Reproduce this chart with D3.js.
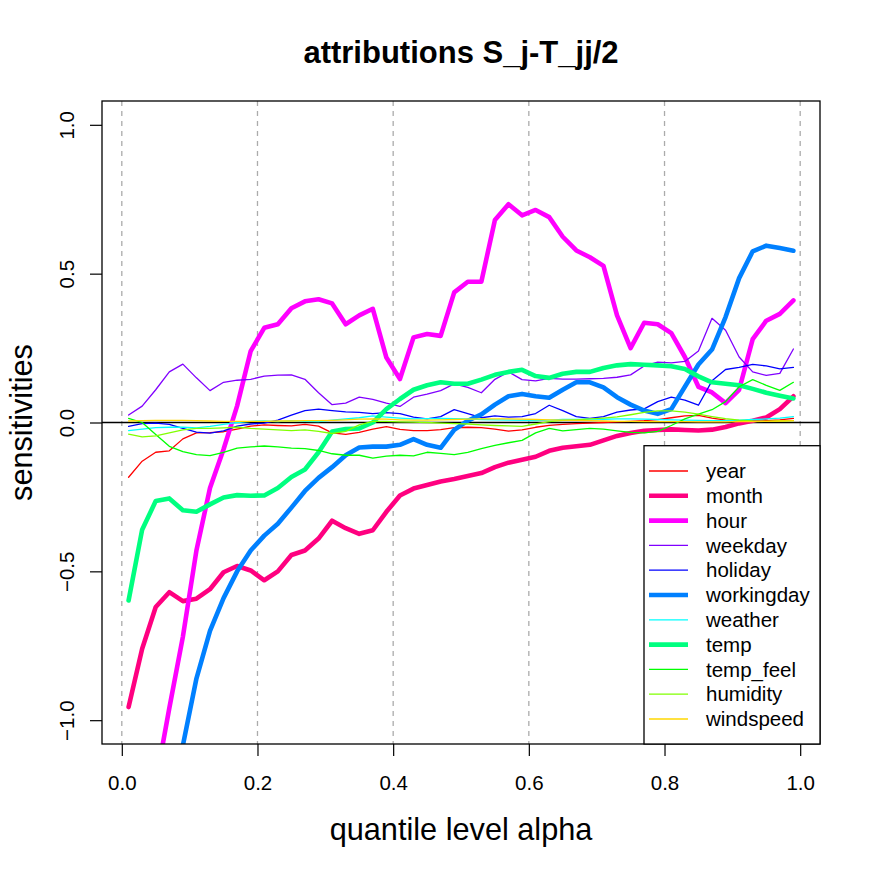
<!DOCTYPE html>
<html>
<head>
<meta charset="utf-8">
<script src="https://cdn.jsdelivr.net/npm/d3@7"></script>
<style>
  html, body { margin: 0; padding: 0; background: #fff; }
  svg { display: block; font-family: "Liberation Sans", Arial, Helvetica, sans-serif; }
</style>
</head>
<body>
<div id="chart"></div>
<script>
// quantile levels (x) and one array per variable (y)
const alpha = [0.01, 0.03, 0.05, 0.07, 0.09, 0.11, 0.13, 0.15, 0.17, 0.19,
  0.21, 0.23, 0.25, 0.27, 0.29, 0.31, 0.33, 0.35, 0.37, 0.39,
  0.41, 0.43, 0.45, 0.47, 0.49, 0.51, 0.53, 0.55, 0.57, 0.59,
  0.61, 0.63, 0.65, 0.67, 0.69, 0.71, 0.73, 0.75, 0.77, 0.79,
  0.81, 0.83, 0.85, 0.87, 0.89, 0.91, 0.93, 0.95, 0.97, 0.99];

const year = [-0.184, -0.13, -0.10, -0.095, -0.055, -0.035, -0.034, -0.031, -0.022, -0.012,
  -0.008, -0.01, -0.011, -0.006, -0.012, -0.035, -0.04, -0.033, -0.022, -0.014,
  -0.023, -0.027, -0.027, -0.024, -0.017, -0.016, -0.017, -0.022, -0.029, -0.025,
  -0.016, -0.01, -0.006, -0.004, -0.002, 0, 0.002, 0.004, 0.006, 0.01,
  0.016, 0.022, 0.024, 0.015, 0.008, 0.005, 0.006, 0.006, 0.009, 0.014];

const month = [-0.956, -0.76, -0.62, -0.57, -0.60, -0.592, -0.56, -0.503, -0.482, -0.497,
  -0.53, -0.50, -0.445, -0.43, -0.39, -0.33, -0.355, -0.374, -0.362, -0.30,
  -0.245, -0.222, -0.21, -0.198, -0.19, -0.18, -0.17, -0.15, -0.135, -0.125,
  -0.115, -0.095, -0.085, -0.08, -0.075, -0.06, -0.045, -0.035, -0.028, -0.025,
  -0.023, -0.025, -0.027, -0.024, -0.015, -0.003, 0.006, 0.017, 0.045, 0.088];

const hour = [-1.71, -1.46, -1.21, -0.96, -0.72, -0.43, -0.22, -0.09, 0.056, 0.24,
  0.318, 0.33, 0.384, 0.407, 0.414, 0.40, 0.33, 0.36, 0.382, 0.218,
  0.146, 0.286, 0.297, 0.291, 0.437, 0.473, 0.473, 0.68, 0.733, 0.696,
  0.714, 0.69, 0.624, 0.578, 0.555, 0.526, 0.36, 0.25, 0.335, 0.33,
  0.30, 0.22, 0.12, 0.101, 0.065, 0.11, 0.28, 0.342, 0.365, 0.41];

const weekday = [0.025, 0.055, 0.11, 0.17, 0.196, 0.15, 0.107, 0.135, 0.142, 0.145,
  0.156, 0.159, 0.16, 0.145, 0.10, 0.06, 0.065, 0.085, 0.078, 0.065,
  0.054, 0.085, 0.095, 0.107, 0.13, 0.118, 0.10, 0.145, 0.17, 0.144,
  0.14, 0.148, 0.146, 0.146, 0.147, 0.148, 0.152, 0.16, 0.19, 0.203,
  0.20, 0.205, 0.24, 0.35, 0.31, 0.22, 0.17, 0.158, 0.165, 0.247];

const holiday = [-0.013, -0.004, -0.002, -0.006, -0.02, -0.032, -0.036, -0.028, -0.012, -0.005,
  -0.002, 0.008, 0.025, 0.04, 0.045, 0.04, 0.036, 0.034, 0.03, 0.033,
  0.03, 0.018, 0.012, 0.02, 0.043, 0.03, 0.016, 0.022, 0.018, 0.02,
  0.03, 0.058, 0.04, 0.02, 0.014, 0.02, 0.035, 0.042, 0.046, 0.07,
  0.085, 0.075, 0.058, 0.14, 0.178, 0.185, 0.195, 0.19, 0.18, 0.185];

const workingday = [-2.2, -1.9, -1.6, -1.33, -1.085, -0.86, -0.70, -0.59, -0.50, -0.43,
  -0.38, -0.34, -0.286, -0.23, -0.186, -0.15, -0.11, -0.084, -0.081, -0.081,
  -0.075, -0.056, -0.075, -0.085, -0.025, 0.006, 0.027, 0.06, 0.088, 0.096,
  0.088, 0.083, 0.11, 0.135, 0.135, 0.118, 0.085, 0.06, 0.04, 0.029,
  0.045, 0.12, 0.195, 0.245, 0.354, 0.485, 0.575, 0.594, 0.586, 0.577];

const weather = [-0.027, -0.022, -0.017, -0.016, -0.016, -0.018, -0.013, -0.006, 0, 0.004,
  0.005, 0.003, 0.006, 0.004, 0.003, 0.008, 0.012, 0.016, 0.022, 0.018,
  0.015, 0.012, 0.013, 0.014, 0.013, 0.012, 0.01, 0.009, 0.008, 0.007,
  0.006, 0.008, 0.01, 0.01, 0.011, 0.011, 0.012, 0.012, 0.011, 0.01,
  0.009, 0.008, 0.007, 0.006, 0.006, 0.008, 0.01, 0.012, 0.015, 0.02];

const temp = [-0.598, -0.36, -0.264, -0.255, -0.295, -0.30, -0.275, -0.252, -0.244, -0.246,
  -0.245, -0.22, -0.183, -0.158, -0.10, -0.03, -0.022, -0.02, 0, 0.045,
  0.079, 0.11, 0.125, 0.135, 0.13, 0.13, 0.144, 0.16, 0.17, 0.177,
  0.156, 0.15, 0.164, 0.17, 0.17, 0.183, 0.192, 0.196, 0.194, 0.192,
  0.189, 0.18, 0.155, 0.135, 0.13, 0.125, 0.113, 0.10, 0.09, 0.081];

const temp_feel = [0.014, 0.0, -0.04, -0.08, -0.098, -0.108, -0.111, -0.10, -0.086, -0.082,
  -0.079, -0.082, -0.086, -0.088, -0.094, -0.105, -0.11, -0.11, -0.12, -0.113,
  -0.11, -0.112, -0.10, -0.104, -0.108, -0.10, -0.088, -0.077, -0.068, -0.06,
  -0.035, -0.02, -0.028, -0.024, -0.02, -0.022, -0.028, -0.033, -0.035, -0.03,
  -0.01, 0.012, 0.028, 0.043, 0.07, 0.12, 0.144, 0.125, 0.108, 0.135];

const humidity = [-0.039, -0.048, -0.045, -0.035, -0.025, -0.02, -0.02, -0.018, -0.016, -0.02,
  -0.022, -0.025, -0.027, -0.025, -0.03, -0.037, -0.03, -0.008, 0.004, 0.004,
  0.002, 0.001, 0, -0.002, -0.004, -0.005, -0.008, -0.01, -0.011, -0.013,
  -0.005, 0.003, 0.007, 0.009, 0.012, 0.015, 0.019, 0.026, 0.034, 0.039,
  0.039, 0.035, 0.028, 0.02, 0.013, 0.008, 0.005, 0.004, 0.005, 0.006];

const windspeed = [0.005, 0.006, 0.007, 0.007, 0.007, 0.006, 0.005, 0.004, 0.004, 0.004,
  0.004, 0.005, 0.005, 0.006, 0.006, 0.007, 0.009, 0.011, 0.012, 0.011,
  0.009, 0.008, 0.008, 0.009, 0.01, 0.011, 0.012, 0.012, 0.012, 0.011,
  0.01, 0.009, 0.008, 0.007, 0.006, 0.005, 0.004, 0.004, 0.003, 0.003,
  0.003, 0.003, 0.002, 0.002, 0.002, 0.003, 0.003, 0.004, 0.005, 0.006];

const names = ["year", "month", "hour", "weekday", "holiday", "workingday",
  "weather", "temp", "temp_feel", "humidity", "windspeed"];
const values = [year, month, hour, weekday, holiday, workingday,
  weather, temp, temp_feel, humidity, windspeed];

const xTicks = [0, 0.2, 0.4, 0.6, 0.8, 1.0];
const yTicks = [-1, -0.5, 0, 0.5, 1];

// look
const colors = ["#FF0000", "#FF0080", "#FF00FF", "#8000FF", "#0000FF", "#0080FF",
  "#00FFFF", "#00FF80", "#00FF00", "#80FF00", "#FFD700"];
const thick = ["month", "hour", "workingday", "temp"];

const W = 872, H = 872;
const plot = { left: 102, right: 820, top: 101, bottom: 744 };
const fs = 20.5;

const x = d3.scaleLinear().domain([-0.0292, 1.0292]).range([plot.left, plot.right]);
const y = d3.scaleLinear().domain([-1.08, 1.08]).range([plot.bottom, plot.top]);

const svg = d3.select("#chart")
  .append("svg")
    .attr("width", W)
    .attr("height", H);

svg.append("defs").append("clipPath")
    .attr("id", "clip")
  .append("rect")
    .attr("x", plot.left)
    .attr("y", plot.top)
    .attr("width", plot.right - plot.left)
    .attr("height", plot.bottom - plot.top);

// dashed verticals
svg.append("g")
  .selectAll("line")
  .data(xTicks)
  .enter().append("line")
    .attr("x1", d => x(d))
    .attr("x2", d => x(d))
    .attr("y1", plot.top)
    .attr("y2", plot.bottom)
    .attr("stroke", "#ababab")
    .attr("stroke-width", 1.3)
    .attr("stroke-dasharray", "5,5");

// zero line
svg.append("line")
  .attr("x1", plot.left)
  .attr("x2", plot.right)
  .attr("y1", y(0))
  .attr("y2", y(0))
  .attr("stroke", "#000")
  .attr("stroke-width", 1.5);

const series = names.map((n, i) => ({
  name: n,
  color: colors[i],
  width: thick.includes(n) ? 4.6 : 1.3,
  points: alpha.map((a, j) => ({ a: a, v: values[i][j] }))
}));

const line = d3.line()
  .x(d => x(d.a))
  .y(d => y(d.v));

svg.append("g")
    .attr("clip-path", "url(#clip)")
  .selectAll("path")
  .data(series)
  .enter().append("path")
    .attr("d", d => line(d.points))
    .attr("fill", "none")
    .attr("stroke", d => d.color)
    .attr("stroke-width", d => d.width)
    .attr("stroke-linejoin", "round")
    .attr("stroke-linecap", "round");

// axes
const xAxis = svg.append("g")
  .attr("transform", `translate(0, ${plot.bottom})`)
  .call(d3.axisBottom(x).tickValues(xTicks).tickFormat(d3.format(".1f"))
    .tickSize(12).tickSizeOuter(0).tickPadding(19));
xAxis.select(".domain").remove();
xAxis.selectAll("line").attr("stroke-width", 1.2);
xAxis.selectAll("text")
  .attr("font-size", fs)
  .attr("font-family", "'Liberation Sans', Arial, sans-serif")
  .attr("fill", "#000");

const yAxis = svg.append("g")
  .attr("transform", `translate(${plot.left}, 0)`)
  .call(d3.axisLeft(y).tickValues(yTicks).tickFormat(d3.format(".1f"))
    .tickSize(12).tickSizeOuter(0));
yAxis.select(".domain").remove();
yAxis.selectAll("line").attr("stroke-width", 1.2);
yAxis.selectAll("text")
  .attr("x", 0)
  .attr("y", 0)
  .attr("dy", 0)
  .attr("text-anchor", "middle")
  .attr("transform", "translate(-28, 0) rotate(-90)")
  .attr("font-size", fs)
  .attr("font-family", "'Liberation Sans', Arial, sans-serif")
  .attr("fill", "#000");

// plot box
svg.append("rect")
  .attr("x", plot.left)
  .attr("y", plot.top)
  .attr("width", plot.right - plot.left)
  .attr("height", plot.bottom - plot.top)
  .attr("fill", "none")
  .attr("stroke", "#000")
  .attr("stroke-width", 1.3);

// titles
svg.append("text")
  .attr("x", (plot.left + plot.right) / 2)
  .attr("y", 63)
  .attr("text-anchor", "middle")
  .attr("font-size", 31)
  .attr("font-weight", "bold")
  .text("attributions S_j-T_jj/2");

svg.append("text")
  .attr("x", (plot.left + plot.right) / 2)
  .attr("y", 840)
  .attr("text-anchor", "middle")
  .attr("font-size", 30.7)
  .text("quantile level alpha");

svg.append("text")
  .attr("transform", `translate(32, ${(plot.top + plot.bottom) / 2}) rotate(-90)`)
  .attr("text-anchor", "middle")
  .attr("font-size", 30.7)
  .text("sensitivities");

// legend, bottom right
const lg = { x: 644, y: 445.7, row: 24.8, first: 25.3 };
svg.append("rect")
  .attr("x", lg.x)
  .attr("y", lg.y)
  .attr("width", plot.right - lg.x)
  .attr("height", plot.bottom - lg.y)
  .attr("fill", "#fff")
  .attr("stroke", "#000")
  .attr("stroke-width", 1.3);

const legend = svg.selectAll(".legend")
  .data(series)
  .enter().append("g")
    .attr("class", "legend")
    .attr("transform", (d, i) => `translate(0, ${lg.y + lg.first + i * lg.row})`);

legend.append("line")
  .attr("x1", 649)
  .attr("x2", 688)
  .attr("stroke", d => d.color)
  .attr("stroke-width", d => d.width);

legend.append("text")
  .attr("x", 706)
  .attr("dy", "0.35em")
  .attr("font-size", fs)
  .text(d => d.name);
</script>
</body>
</html>
